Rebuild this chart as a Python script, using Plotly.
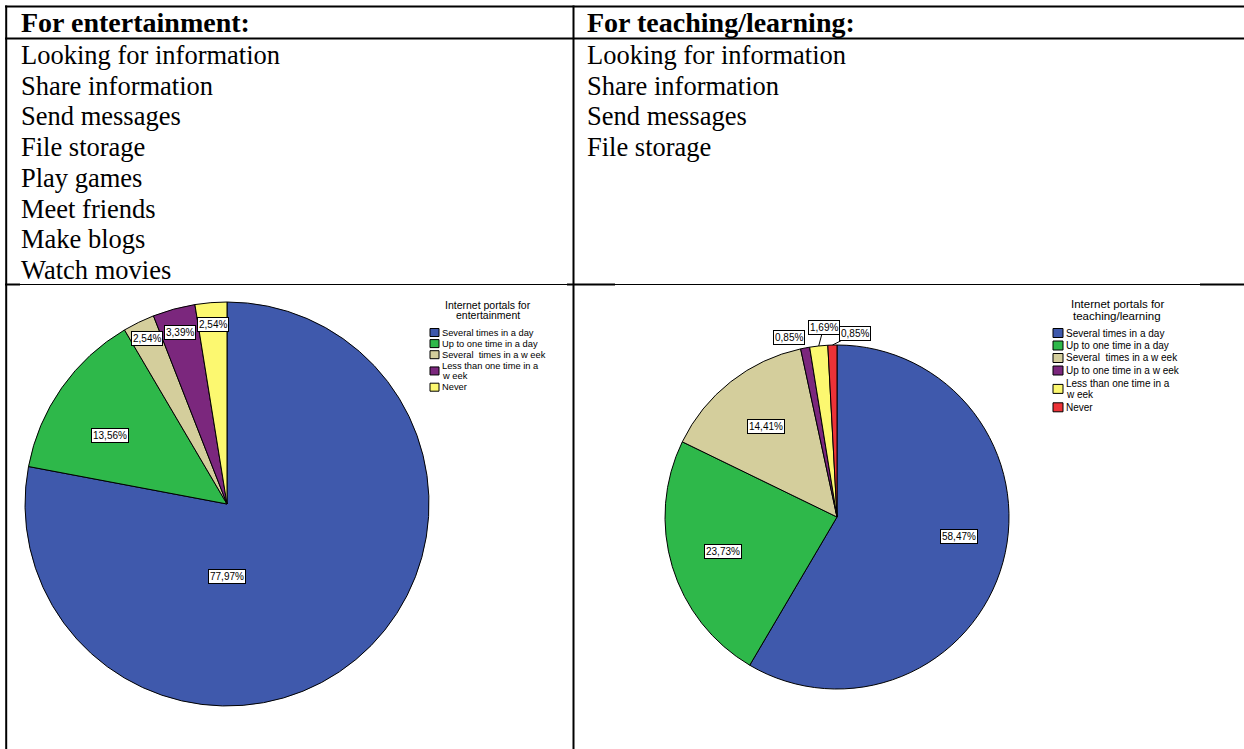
import math
import plotly.graph_objects as go

W, H = 1244, 749

# ---------------- data ----------------
left_header = "For entertainment:"
right_header = "For teaching/learning:"
left_items = ["Looking for information", "Share information", "Send messages", "File storage",
              "Play games", "Meet friends", "Make blogs", "Watch movies"]
right_items = ["Looking for information", "Share information", "Send messages", "File storage"]

ent_title = ["Internet portals for", "entertainment"]
ent_labels = ["Several times in a day", "Up to one time in a day", "Several  times in a w eek",
              "Less than one time in a<br>w eek", "Never"]
ent_values = [77.97, 13.56, 2.54, 3.39, 2.54]

teach_title = ["Internet portals for", "teaching/learning"]
teach_labels = ["Several times in a day", "Up to one time in a day", "Several  times in a w eek",
                "Up to one time in a w eek", "Less than one time in a<br>w eek", "Never"]
teach_values = [58.47, 23.73, 14.41, 0.85, 1.69, 0.85]

# ---------------- styles ----------------
BLUE, GREEN, TAN, PURPLE, YELLOW, RED = "#3F59AC", "#2EB84A", "#D4CE9C", "#7B277D", "#FCF870", "#EC3237"
ent_colors = [BLUE, GREEN, TAN, PURPLE, YELLOW]
teach_colors = [BLUE, GREEN, TAN, PURPLE, YELLOW, RED]

SERIF = "Liberation Serif, Times New Roman, serif"
SANS = "Liberation Sans, Arial, sans-serif"

fig = go.Figure()
shapes = []
annotations = []


def P(x, y):
    return x / W, 1 - y / H


def hline(y, x0, x1, w):
    shapes.append(dict(type="line", xref="paper", yref="paper", x0=x0 / W, x1=x1 / W,
                       y0=1 - y / H, y1=1 - y / H, line=dict(color="black", width=w)))


def vline(x, y0, y1, w):
    shapes.append(dict(type="line", xref="paper", yref="paper", x0=x / W, x1=x / W,
                       y0=1 - y0 / H, y1=1 - y1 / H, line=dict(color="black", width=w)))


# table lines
hline(6.5, 5, 1244, 2)
hline(38.5, 5, 1244, 2)
vline(6.2, 5.5, 749, 2)
vline(573.5, 5.5, 749, 2)
hline(284.5, 5, 1244, 1)
hline(284.5, 5, 20, 2)
hline(284.5, 567, 615, 2)
hline(284.5, 1200, 1244, 2)


def text(x, y, s, size, family, bold=False, anchor="left", color="black"):
    xx, yy = P(x, y)
    annotations.append(dict(x=xx, y=yy, xref="paper", yref="paper", showarrow=False,
                            text=("<b>%s</b>" % s) if bold else s, xanchor=anchor, yanchor="middle",
                            font=dict(family=family, size=size, color=color)))


TSIZE = 26.5
HSIZE = 28
text(19, 22.5, left_header, HSIZE, SERIF, bold=True)
text(585, 22.5, right_header, HSIZE, SERIF, bold=True)
for i, s in enumerate(left_items):
    text(19, 55 + i * 30.7, s, TSIZE, SERIF)
for i, s in enumerate(right_items):
    text(585, 55 + i * 30.7, s, TSIZE, SERIF)


def fmt(v):
    return ("%.2f%%" % v).replace(".", ",")


def add_pie(cx, cy, R, labels, values, colors, label_pos, label_font, leaders):
    fig.add_trace(go.Pie(labels=[l.replace("<br>", " ") for l in labels], values=values, sort=False,
                         direction="clockwise", rotation=0,
                         marker=dict(colors=colors, line=dict(color="black", width=1)),
                         textinfo="none", hoverinfo="label+percent", showlegend=False,
                         domain=dict(x=[(cx - R) / W, (cx + R) / W],
                                     y=[1 - (cy + R) / H, 1 - (cy - R) / H])))
    tot = sum(values)
    cum = 0
    for i, v in enumerate(values):
        mid = 360 * (cum + v / 2) / tot
        cum += v
        ang, rf = label_pos[i]
        if ang is None:
            ang = mid
        lx = cx + rf * R * math.sin(math.radians(ang))
        ly = cy - rf * R * math.cos(math.radians(ang))
        base = dict(text=fmt(v), xref="paper", yref="paper",
                    font=dict(family=SANS, size=label_font, color="black"),
                    bgcolor="white", bordercolor="black", borderwidth=1, borderpad=1)
        if leaders[i]:
            ex = cx + R * math.sin(math.radians(mid))
            ey = cy - R * math.cos(math.radians(mid))
            xx, yy = P(ex, ey)
            base.update(x=xx, y=yy, showarrow=True, ax=lx - ex, ay=ly - ey, arrowhead=0,
                        arrowwidth=1, arrowcolor="black", standoff=0, startstandoff=0)
        else:
            xx, yy = P(lx, ly)
            base.update(x=xx, y=yy, showarrow=False, xanchor="center", yanchor="middle")
        annotations.append(base)


def add_legend(title, title_x, title_y, title_step, title_size, labels, colors, sq_x, sq_w, sq_h,
               txt_x, y0, line_step, gap, fsize):
    for j, t in enumerate(title):
        text(title_x, title_y + j * title_step, t, title_size, SANS, anchor="center")
    y = y0
    for lab, col in zip(labels, colors):
        lines = lab.split("<br>")
        for k, ln in enumerate(lines):
            text(txt_x, y + k * line_step, ln, fsize, SANS)
        ym = y + (len(lines) - 1) * line_step / 2
        x0, y0p = P(sq_x, ym - sq_h / 2)
        x1, y1p = P(sq_x + sq_w, ym + sq_h / 2)
        shapes.append(dict(type="rect", xref="paper", yref="paper", x0=x0, x1=x1, y0=y1p, y1=y0p,
                           fillcolor=col, line=dict(color="black", width=1)))
        y += len(lines) * line_step + gap


# left pie
add_pie(227, 504, 202, ent_labels, ent_values, ent_colors,
        [(180, 0.36), (300.5, 0.67), (None, 0.91), (None, 0.88), (None, 0.89)], 10,
        [False] * 5)
add_legend(ent_title, 488, 305, 10, 10.5, ent_labels, ent_colors, 430, 9, 8, 440,
           332.5, 10.3, 0.8, 9.3)

# right pie
add_pie(837, 517, 172, teach_labels, teach_values, teach_colors,
        [(99, 0.72), (None, 0.69), (None, 0.67), (345, 1.08), (356, 1.107), (5.6, 1.07)], 10,
        [False, False, False, False, True, True])
add_legend(teach_title, 1117, 304, 12, 11.5, teach_labels, teach_colors, 1053, 10, 9, 1064,
           333, 11.8, 0.7, 10)

fig.update_layout(width=W, height=H, margin=dict(l=0, r=0, t=0, b=0),
                  paper_bgcolor="white", plot_bgcolor="white",
                  shapes=shapes, annotations=annotations, showlegend=False)
fig.write_html("out.html", config={"displayModeBar": False},
               post_script="document.body.style.margin='0';document.body.style.overflow='hidden';")
